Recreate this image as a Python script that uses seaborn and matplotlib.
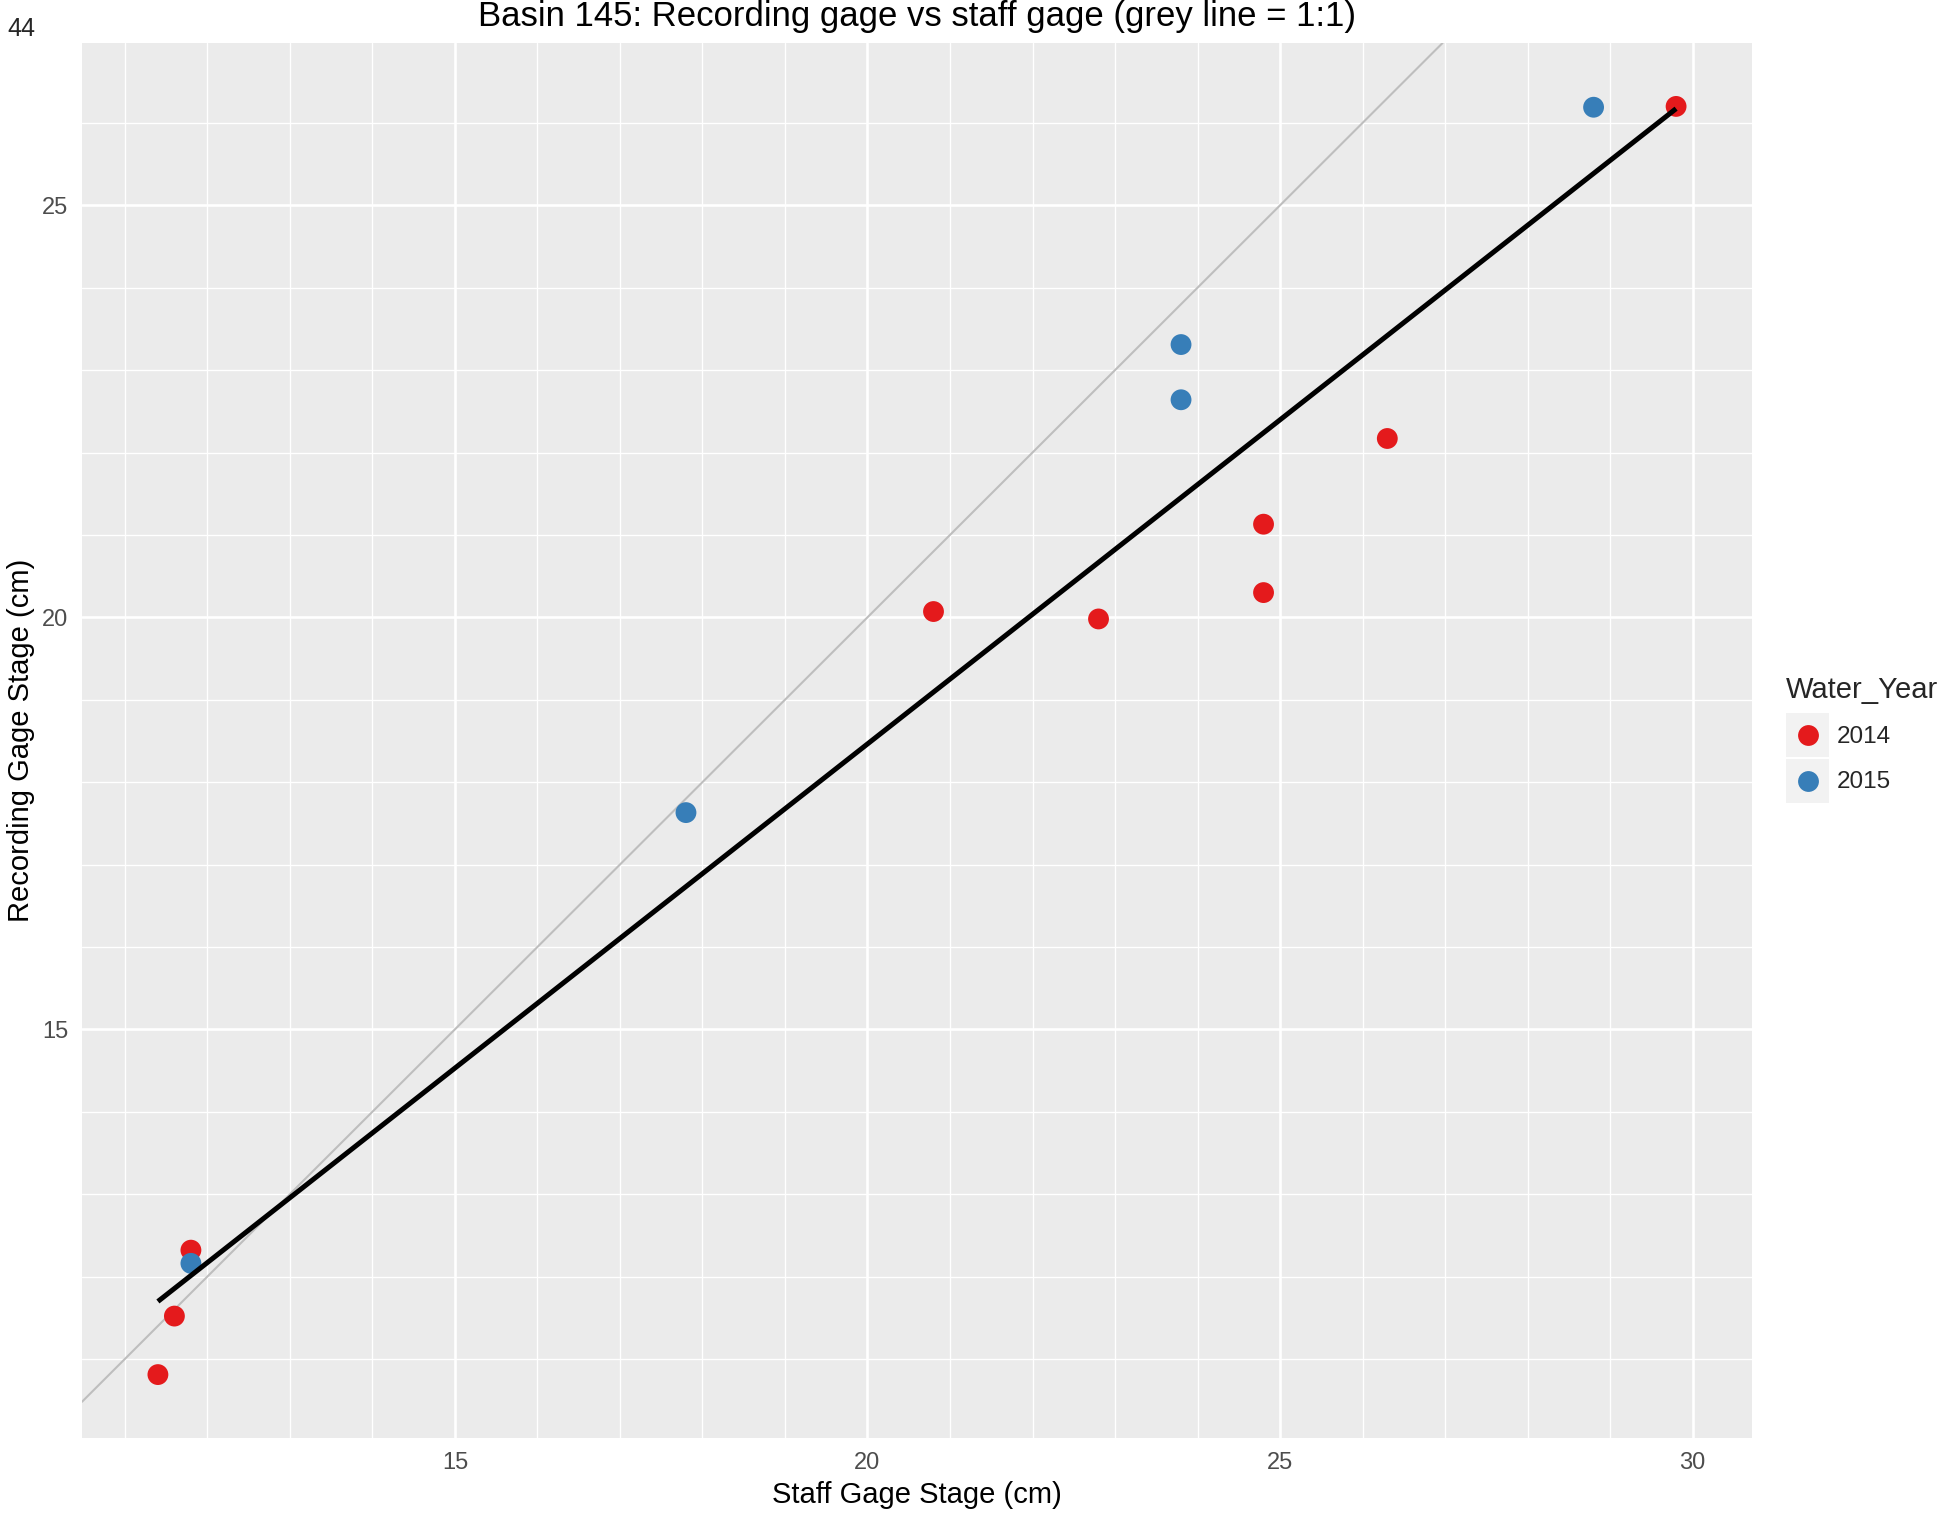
import numpy as np
import pandas as pd
import matplotlib
matplotlib.use("Agg")
import matplotlib.pyplot as plt
import seaborn as sns
from matplotlib.patches import Rectangle
from matplotlib.lines import Line2D
from matplotlib.legend_handler import HandlerBase
from matplotlib.ticker import MultipleLocator

# Paired stage readings (cm) for Basin 145
staff_2014 = [11.4, 11.6, 11.8, 20.8, 22.8, 24.8, 24.8, 26.3, 29.8]
recording_2014 = [10.81, 11.52, 12.32, 20.07, 19.98, 21.13, 20.30, 22.17, 26.20]
staff_2015 = [11.8, 17.8, 23.8, 23.8, 28.8]
recording_2015 = [12.16, 17.63, 23.31, 22.64, 26.19]

years = ["2014", "2015"]
year_colors = ["#E41A1C", "#377EB8"]

df = pd.DataFrame({
    "staff": staff_2014 + staff_2015,
    "recording": recording_2014 + recording_2015,
    "Water_Year": [years[0]] * len(staff_2014) + [years[1]] * len(staff_2015),
})

sns.set_theme(style="darkgrid", rc={
    "axes.facecolor": "#EBEBEB",
    "grid.color": "white",
    "axes.axisbelow": True,
})
plt.rcParams["font.family"] = ["Liberation Sans", "DejaVu Sans"]


class KeyHandler(HandlerBase):
    """Legend key: light grey square with the point centred in it."""

    def create_artists(self, legend, orig_handle, xdescent, ydescent,
                       width, height, fontsize, trans):
        rect = Rectangle((-xdescent, -ydescent), width, height,
                         facecolor="#F2F2F2", edgecolor="none", transform=trans)
        dot = Line2D([-xdescent + width / 2], [-ydescent + height / 2],
                     linestyle="none", marker="o",
                     markersize=orig_handle.get_markersize(),
                     markerfacecolor=orig_handle.get_markerfacecolor(),
                     markeredgecolor="none", transform=trans)
        return [rect, dot]


fig = plt.figure(figsize=(19.55, 15.15), dpi=100)
ax = fig.add_axes([82 / 1955, 1 - 1438 / 1515, (1752 - 82) / 1955, (1438 - 43) / 1515])

# 1:1 reference line
ax.axline((0, 0), slope=1, color="#BEBEBE", lw=1.5, zorder=1.5)

sns.scatterplot(data=df, x="staff", y="recording", hue="Water_Year",
                palette=dict(zip(years, year_colors)), s=225, linewidth=0,
                legend=False, ax=ax, zorder=3)

# Linear fit across both years
sns.regplot(data=df, x="staff", y="recording", scatter=False, ci=None,
            truncate=True, color="black",
            line_kws=dict(linewidth=3.6, zorder=4, solid_capstyle="butt"), ax=ax)

# ggplot-style 5% expansion of the data range
xr = df["staff"].max() - df["staff"].min()
yr = df["recording"].max() - df["recording"].min()
ax.set_xlim(df["staff"].min() - 0.05 * xr, df["staff"].max() + 0.05 * xr)
ax.set_ylim(df["recording"].min() - 0.05 * yr, df["recording"].max() + 0.05 * yr)

for axis in (ax.xaxis, ax.yaxis):
    axis.set_major_locator(MultipleLocator(5))
    axis.set_minor_locator(MultipleLocator(1))
ax.grid(which="major", color="white", lw=1.9)
ax.grid(which="minor", color="white", lw=0.95)
ax.tick_params(which="minor", length=0)
ax.tick_params(which="major", length=5, width=1.4, color="#333333",
               labelcolor="#4D4D4D", labelsize=17, pad=5)
for s in ax.spines.values():
    s.set_visible(False)

ax.set_title("Basin 145: Recording gage vs staff gage (grey line = 1:1)",
             fontsize=25, color="black", pad=12)
ax.set_xlabel("Staff Gage Stage (cm)", fontsize=21, color="black", labelpad=5)
ax.set_ylabel("Recording Gage Stage (cm)", fontsize=21, color="black", labelpad=5)

fig.text(21 / 1955, 1 - 29 / 1515, "44", ha="center", va="center", fontsize=18)

handles = [
    Line2D([], [], linestyle="none", marker="o", markersize=15,
           markerfacecolor=c, markeredgecolor="none")
    for c in year_colors
]
leg = fig.legend(handles, years, title="Water_Year", loc="upper left",
                 bbox_to_anchor=(1786 / 1955, 1 - 676 / 1515),
                 handler_map={Line2D: KeyHandler()},
                 frameon=False, fontsize=17.5, title_fontsize=21,
                 handlelength=1.77, handleheight=2.38, handletextpad=0.3,
                 labelspacing=0.08, borderpad=0, borderaxespad=0, alignment="left")
# extra space between the legend title and the keys
leg._legend_box.sep = 6.8

fig.savefig("out.png", dpi=100)
